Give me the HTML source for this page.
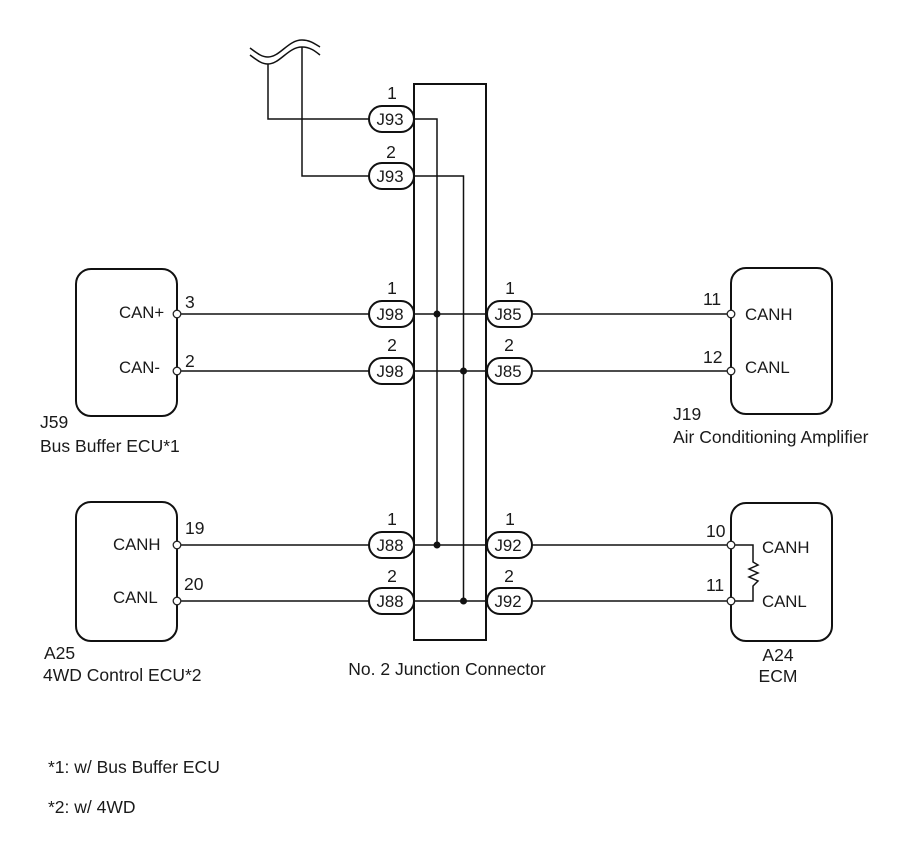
<!DOCTYPE html>
<html><head><meta charset="utf-8">
<style>
html,body{margin:0;padding:0;background:#fff;width:907px;height:866px;overflow:hidden}
svg{display:block}
text{font-family:"Liberation Sans",sans-serif;font-size:17.5px;fill:#1a1a1a}
text.c{font-size:16.8px}
.m{text-anchor:middle}
.w{fill:none;stroke:#111;stroke-width:1.5}
.b{fill:#fff;stroke:#111;stroke-width:2}
.p{fill:#fff;stroke:#111;stroke-width:2}
.n{fill:#fff;stroke:#222;stroke-width:1.3}
</style></head><body>
<svg width="907" height="866" viewBox="0 0 907 866" xmlns="http://www.w3.org/2000/svg">
<!-- wave break -->
<path class="w" d="M250 48 C258 54 262 57 268 57 C280 57 288 40 302 40 C310 40 315 44 320 47"/>
<path class="w" d="M250 55 C258 61 262 64 268 64 C280 64 288 47 302 47 C310 47 315 51 320 55"/>
<path class="w" d="M268 64V119H369"/>
<path class="w" d="M302 47V176H369"/>
<!-- ECU boxes -->
<rect class="b" x="76" y="269" width="101" height="147" rx="15"/>
<rect class="b" x="76" y="502" width="101" height="139" rx="15"/>
<rect class="b" x="731" y="268" width="101" height="146" rx="15"/>
<rect class="b" x="731" y="503" width="101" height="138" rx="15"/>
<!-- Junction box -->
<rect x="414" y="84" width="72" height="556" fill="#fff" stroke="#111" stroke-width="2"/>
<!-- horizontal wires -->
<path class="w" d="M177 314H369M177 371H369M177 545H369M177 601H369"/>
<path class="w" d="M414 119H437V545M414 176H463.500V601"/>
<path class="w" d="M414 314H487M414 371H487M414 545H487M414 601H487"/>
<path class="w" d="M532 314H731M532 371H731M532 545H731M532 601H731"/>
<!-- junction dots -->
<circle cx="437" cy="314" r="3.500" fill="#111"/>
<circle cx="463.500" cy="371" r="3.500" fill="#111"/>
<circle cx="437" cy="545" r="3.500" fill="#111"/>
<circle cx="463.500" cy="601" r="3.500" fill="#111"/>
<!-- resistor -->
<path class="w" d="M731 545H753V562L758 565L749 569L758 573L749 577L758 581L753 586V601H731"/>
<!-- pills -->
<rect class="p" x="369" y="106" width="45" height="26" rx="13"/>
<rect class="p" x="369" y="163" width="45" height="26" rx="13"/>
<rect class="p" x="369" y="301" width="45" height="26" rx="13"/>
<rect class="p" x="369" y="358" width="45" height="26" rx="13"/>
<rect class="p" x="369" y="532" width="45" height="26" rx="13"/>
<rect class="p" x="369" y="588" width="45" height="26" rx="13"/>
<rect class="p" x="487" y="301" width="45" height="26" rx="13"/>
<rect class="p" x="487" y="358" width="45" height="26" rx="13"/>
<rect class="p" x="487" y="532" width="45" height="26" rx="13"/>
<rect class="p" x="487" y="588" width="45" height="26" rx="13"/>
<!-- nodes -->
<circle class="n" cx="177" cy="314" r="3.800"/><circle class="n" cx="177" cy="371" r="3.800"/>
<circle class="n" cx="177" cy="545" r="3.800"/><circle class="n" cx="177" cy="601" r="3.800"/>
<circle class="n" cx="731" cy="314" r="3.800"/><circle class="n" cx="731" cy="371" r="3.800"/>
<circle class="n" cx="731" cy="545" r="3.800"/><circle class="n" cx="731" cy="601" r="3.800"/>
<!-- pill labels -->
<text class="m c" x="390" y="125">J93</text>
<text class="m c" x="390" y="182">J93</text>
<text class="m c" x="390" y="320">J98</text>
<text class="m c" x="390" y="377">J98</text>
<text class="m c" x="390" y="551">J88</text>
<text class="m c" x="390" y="607">J88</text>
<text class="m c" x="508" y="320">J85</text>
<text class="m c" x="508" y="377">J85</text>
<text class="m c" x="508" y="551">J92</text>
<text class="m c" x="508" y="607">J92</text>
<!-- pin numbers above pills -->
<text class="m" x="392" y="99">1</text>
<text class="m" x="391" y="158">2</text>
<text class="m" x="392" y="294">1</text>
<text class="m" x="392" y="351">2</text>
<text class="m" x="392" y="525">1</text>
<text class="m" x="392" y="582">2</text>
<text class="m" x="510" y="294">1</text>
<text class="m" x="509" y="351">2</text>
<text class="m" x="510" y="525">1</text>
<text class="m" x="509" y="582">2</text>
<!-- left ECU -->
<text x="185" y="308">3</text>
<text x="185" y="367">2</text>
<text x="185" y="534">19</text>
<text x="184" y="590">20</text>
<text class="c" x="119" y="318">CAN+</text>
<text class="c" x="119" y="373">CAN-</text>
<text class="c" x="113" y="550">CANH</text>
<text class="c" x="113" y="603">CANL</text>
<text x="40" y="428">J59</text>
<text x="40" y="452">Bus Buffer ECU*1</text>
<text x="44" y="659">A25</text>
<text x="43" y="681">4WD Control ECU*2</text>
<!-- right ECU -->
<text x="703" y="305">11</text>
<text x="703" y="363">12</text>
<text x="706" y="537">10</text>
<text x="706" y="591">11</text>
<text class="c" x="745" y="320">CANH</text>
<text class="c" x="745" y="373">CANL</text>
<text class="c" x="762" y="553">CANH</text>
<text class="c" x="762" y="607">CANL</text>
<text x="673" y="420">J19</text>
<text x="673" y="443">Air Conditioning Amplifier</text>
<text class="m" x="778" y="661">A24</text>
<text class="m" x="778" y="682">ECM</text>
<text class="m" x="447" y="675">No. 2 Junction Connector</text>
<!-- footnotes -->
<text x="48" y="773">*1: w/ Bus Buffer ECU</text>
<text x="48" y="813">*2: w/ 4WD</text>
</svg>
</body></html>
